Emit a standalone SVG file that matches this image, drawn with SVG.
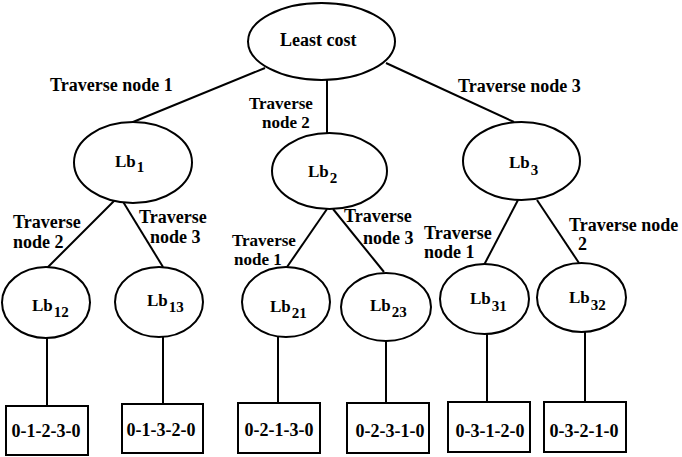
<svg xmlns="http://www.w3.org/2000/svg" width="682" height="457" viewBox="0 0 682 457">
<style>
.n{fill:#fff;stroke:#000;stroke-width:2}
.c line{stroke:#000;stroke-width:2}
text{font-family:"Liberation Serif","Times New Roman",serif;font-weight:bold;fill:#000}
.t{font-size:18px}
.t2{font-size:17px}
.lb{font-size:17px}
.s{font-size:15px}
.p{font-size:18px;text-anchor:middle}
</style>
<rect width="682" height="457" fill="#fff"/>
<g id="connectors" class="c">
<line x1="265" y1="68" x2="133" y2="122"/>
<line x1="327" y1="80" x2="327" y2="133"/>
<line x1="386" y1="63" x2="514" y2="122"/>
<line x1="115" y1="200" x2="47" y2="268"/>
<line x1="122" y1="200" x2="163" y2="267"/>
<line x1="327" y1="209" x2="287" y2="267"/>
<line x1="333" y1="209" x2="384" y2="272"/>
<line x1="518" y1="200" x2="484" y2="265"/>
<line x1="537" y1="200" x2="579" y2="263"/>
<line x1="47" y1="338" x2="47" y2="406"/>
<line x1="163" y1="337" x2="163" y2="404"/>
<line x1="278" y1="337" x2="278" y2="403"/>
<line x1="386" y1="341" x2="386" y2="403"/>
<line x1="487" y1="334" x2="487" y2="402"/>
<line x1="585" y1="332" x2="585" y2="402"/>
</g>
<g id="edge-labels" class="t">
<text x="50" y="91">Traverse node 1</text>
<text class="t2" x="249" y="109">Traverse<tspan x="262" y="128">node 2</tspan></text>
<text x="458" y="92">Traverse node 3</text>
<text x="13" y="228">Traverse<tspan x="13" y="248">node 2</tspan></text>
<text x="139" y="223">Traverse<tspan x="150" y="243">node 3</tspan></text>
<text class="t2" x="232" y="246">Traverse<tspan x="234" y="265">node 1</tspan></text>
<text x="344" y="222">Traverse<tspan x="363" y="244">node 3</tspan></text>
<text x="424" y="239">Traverse<tspan x="424" y="258">node 1</tspan></text>
<text x="569" y="231">Traverse node<tspan x="578" y="250">2</tspan></text>
</g>
<g id="root"><ellipse class="n" cx="321.5" cy="41.5" rx="73.5" ry="38.5"/><text class="t" x="280" y="46">Least cost</text></g>
<g id="lb1"><ellipse class="n" cx="133" cy="162.5" rx="59" ry="40.5"/><text class="lb" x="115" y="167">Lb<tspan class="s" dx="1" dy="5">1</tspan></text></g>
<g id="lb2"><ellipse class="n" cx="329.5" cy="171" rx="57.5" ry="38"/><text class="lb" x="308" y="177">Lb<tspan class="s" dx="1" dy="6">2</tspan></text></g>
<g id="lb3"><ellipse class="n" cx="521.5" cy="161" rx="58.5" ry="39"/><text class="lb" x="509" y="168">Lb<tspan class="s" dx="1" dy="7">3</tspan></text></g>
<g id="lb12"><ellipse class="n" cx="46" cy="302.5" rx="44" ry="35.5"/><text class="lb" x="32" y="311">Lb<tspan class="s" dx="1" dy="6">12</tspan></text></g>
<g id="lb13"><ellipse class="n" cx="159" cy="302" rx="44" ry="35"/><text class="lb" x="147" y="306">Lb<tspan class="s" dx="1" dy="6">13</tspan></text></g>
<g id="lb21"><ellipse class="n" cx="286" cy="302" rx="44" ry="35"/><text class="lb" x="270" y="312">Lb<tspan class="s" dx="1" dy="6">21</tspan></text></g>
<g id="lb23"><ellipse class="n" cx="386" cy="307" rx="45" ry="34"/><text class="lb" x="370" y="311">Lb<tspan class="s" dx="1" dy="6">23</tspan></text></g>
<g id="lb31"><ellipse class="n" cx="484.5" cy="299" rx="44.5" ry="35"/><text class="lb" x="470" y="304">Lb<tspan class="s" dx="1" dy="7">31</tspan></text></g>
<g id="lb32"><ellipse class="n" cx="581.5" cy="297.5" rx="44.5" ry="34.5"/><text class="lb" x="569" y="303">Lb<tspan class="s" dx="1" dy="7">32</tspan></text></g>
<g id="p1"><rect class="n" x="6" y="406" width="82" height="49"/><text class="p" x="46" y="437">0-1-2-3-0</text></g>
<g id="p2"><rect class="n" x="122" y="404" width="81" height="49"/><text class="p" x="161" y="436">0-1-3-2-0</text></g>
<g id="p3"><rect class="n" x="238" y="403" width="82" height="50"/><text class="p" x="279" y="436">0-2-1-3-0</text></g>
<g id="p4"><rect class="n" x="347" y="403" width="82" height="50"/><text class="p" x="390" y="437">0-2-3-1-0</text></g>
<g id="p5"><rect class="n" x="448" y="402" width="82" height="50"/><text class="p" x="490" y="437">0-3-1-2-0</text></g>
<g id="p6"><rect class="n" x="544" y="402" width="82" height="50"/><text class="p" x="584" y="437">0-3-2-1-0</text></g>
</svg>
